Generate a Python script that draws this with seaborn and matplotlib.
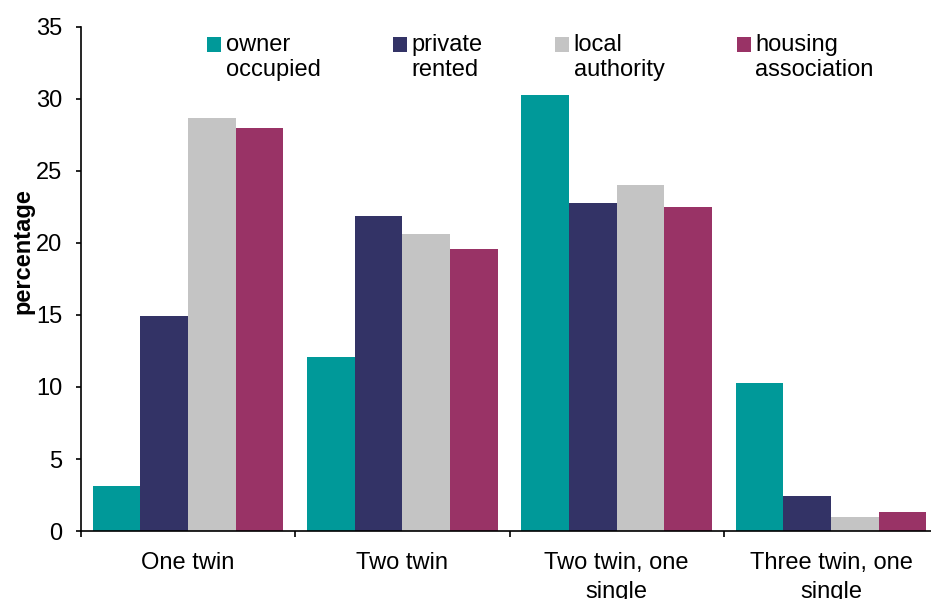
import numpy as np
import pandas as pd
import matplotlib
matplotlib.use("Agg")
import matplotlib.pyplot as plt
import matplotlib.patches as mpatches
from matplotlib.legend_handler import HandlerPatch
import seaborn as sns

categories = ["One twin", "Two twin", "Two twin, one\nsingle", "Three twin, one\nsingle"]
tenures = ["owner\noccupied", "private\nrented", "local\nauthority", "housing\nassociation"]
owner_occupied = [3.1, 12.1, 30.3, 10.3]
private_rented = [14.9, 21.9, 22.8, 2.4]
local_authority = [28.7, 20.6, 24.0, 1.0]
housing_association = [28.0, 19.6, 22.5, 1.3]
colors = ["#009999", "#333366", "#c4c4c4", "#993366"]

values = [owner_occupied, private_rented, local_authority, housing_association]
rows = []
for tenure, series in zip(tenures, values):
    for cat, v in zip(categories, series):
        rows.append({"type": cat, "pct": v, "tenure": tenure})
df = pd.DataFrame(rows)

sns.set_style("white")
plt.rcParams["font.family"] = ["Liberation Sans", "DejaVu Sans"]
plt.rcParams["text.color"] = "black"
plt.rcParams["axes.labelcolor"] = "black"
plt.rcParams["xtick.color"] = "black"
plt.rcParams["ytick.color"] = "black"

fig = plt.figure(figsize=(9.31, 5.99), dpi=100)
# axes runs a little past the right edge, like the original
ax = fig.add_axes([0.087, 0.1135, 0.9206, 0.8415])

sns.barplot(data=df, x="type", y="pct", hue="tenure", order=categories,
            hue_order=tenures, palette=colors, saturation=1, width=0.89,
            errorbar=None, linewidth=0, legend=False, ax=ax)

ax.set_xlim(-0.5, 3.5)
ax.set_ylim(0, 35)
ax.set_yticks(np.arange(0, 36, 5))
ax.tick_params(axis="y", left=True, labelsize=17, length=3.5, width=1.2,
               direction="out", pad=10)
ax.tick_params(axis="x", which="major", labelsize=17, length=0, pad=15)
ax.set_xticks(np.arange(-0.5, 3.6, 1), minor=True)
ax.tick_params(axis="x", which="minor", bottom=True, length=4.3, width=1.2, direction="out")
for lbl in ax.get_xticklabels():
    lbl.set_linespacing(1.4)
ax.set_xlabel("")
ax.set_ylabel("percentage", fontsize=17, fontweight="bold")
ax.yaxis.set_label_coords(-0.054, 0.556)

for side in ["top", "right"]:
    ax.spines[side].set_visible(False)
for side in ["left", "bottom"]:
    ax.spines[side].set_color("black")
    ax.spines[side].set_linewidth(1.2)


def top_square(legend, orig_handle, xdescent, ydescent, width, height, fontsize):
    # put the colour box level with the first line of the label
    return mpatches.Rectangle((-xdescent, -ydescent + 0.55 * fontsize), width, height)


handles = [mpatches.Patch(facecolor=c, edgecolor="none") for c in colors]
ax.legend(handles, tenures, ncol=4, loc="upper left", bbox_to_anchor=(0.147, 0.986),
          frameon=False, fontsize=17, handlelength=0.6, handleheight=0.6,
          handletextpad=0.2, columnspacing=3.05, labelspacing=0.1,
          borderaxespad=0, borderpad=0,
          handler_map={mpatches.Patch: HandlerPatch(patch_func=top_square)})

fig.savefig("out.png", dpi=100)
